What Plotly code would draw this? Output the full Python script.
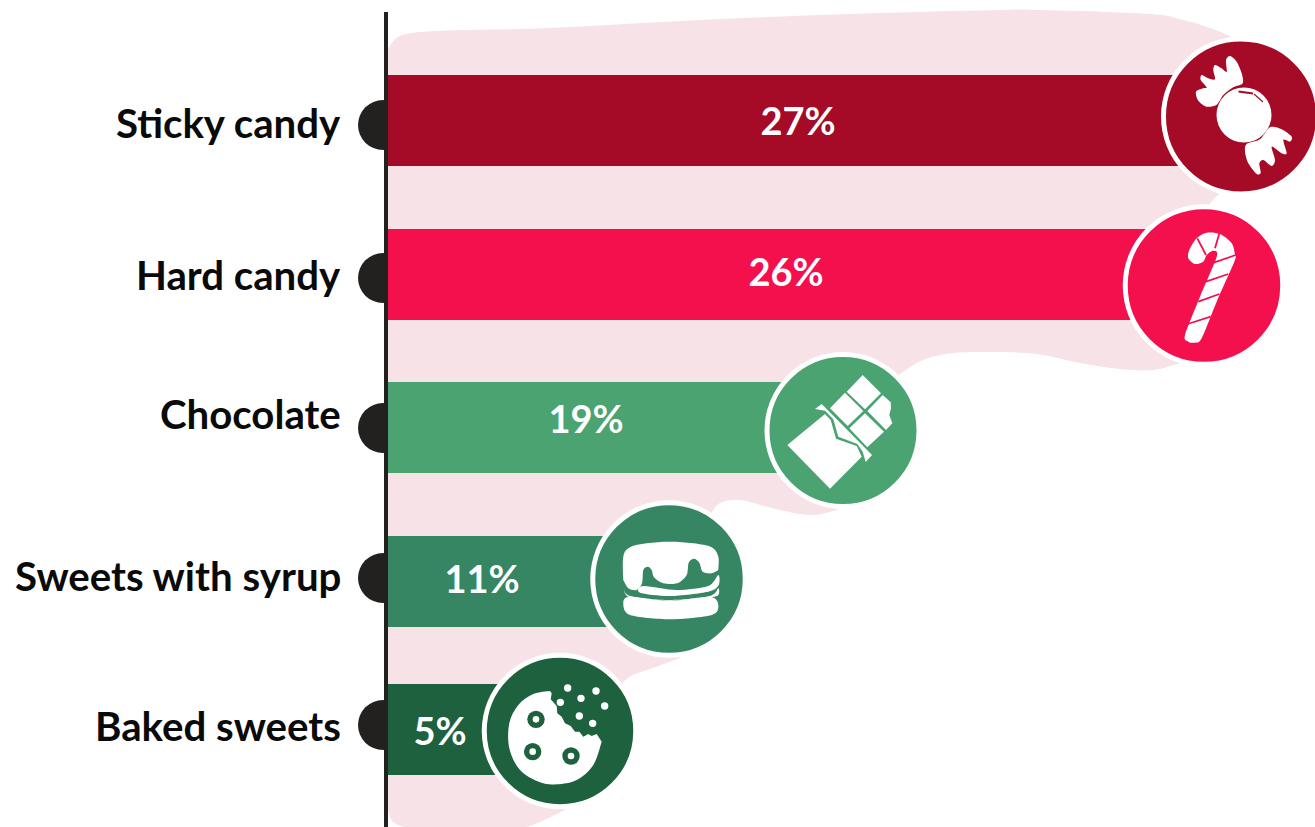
import plotly.graph_objects as go

categories = ["Sticky candy", "Hard candy", "Chocolate", "Sweets with syrup", "Baked sweets"]
percent_values = [27, 26, 19, 11, 5]
colors = ["#a50a26", "#f3104d", "#4aa371", "#368663", "#1e613f"]
bar_y = [120.5, 274.5, 427.5, 581.5, 729.5]
bar_length = [853, 816, 455, 281, 172]
badge_y = [116.5, 285.5, 430.5, 579, 731]
badge_size = [155, 157.5, 152, 152.5, 151.5]
label_x = [798, 786, 586, 482, 440]
label_y = [125, 276, 423, 583, 735]
cat_y = [122.5, 274.5, 413.5, 575.5, 725.5]
dot_y = [125, 278, 428, 578, 725]

AXIS_X = 388
INK = "#22211f"
PINK = "#f6e2e7"
FONT = "Lato"


def seg(p, t=6.0, move=False):
    """Open Catmull-Rom run through p; joined to the previous run by a straight line."""
    n = len(p)
    d = ("M" if move else "L") + f"{p[0][0]:.1f},{p[0][1]:.1f}"
    for i in range(n - 1):
        a, b, c, e = p[max(i - 1, 0)], p[i], p[i + 1], p[min(i + 2, n - 1)]
        c1 = (b[0] + (c[0] - a[0]) / t, b[1] + (c[1] - a[1]) / t)
        c2 = (c[0] - (e[0] - b[0]) / t, c[1] - (e[1] - b[1]) / t)
        d += f"C{c1[0]:.1f},{c1[1]:.1f} {c2[0]:.1f},{c2[1]:.1f} {c[0]:.1f},{c[1]:.1f}"
    return d


def closed_smooth(p, t=6.0):
    n = len(p)
    d = f"M{p[0][0]},{p[0][1]}"
    for i in range(n):
        a, b, c, e = p[i - 1], p[i], p[(i + 1) % n], p[(i + 2) % n]
        c1 = (b[0] + (c[0] - a[0]) / t, b[1] + (c[1] - a[1]) / t)
        c2 = (c[0] - (e[0] - b[0]) / t, c[1] - (e[1] - b[1]) / t)
        d += f"C{c1[0]:.1f},{c1[1]:.1f} {c2[0]:.1f},{c2[1]:.1f} {c[0]:.1f},{c[1]:.1f}"
    return d + "Z"


def poly(p):
    return "M" + "L".join(f"{x:.1f},{y:.1f}" for x, y in p) + "Z"


def z(pts, ox, oy):
    return [(ox + x / 3, oy + y / 3) for x, y in pts]


shapes = []


def fill(path, color="white", layer="above"):
    shapes.append(dict(type="path", path=path, fillcolor=color, line=dict(width=0), layer=layer,
                       xref="x", yref="y"))


def stroke(a, b, color, w=2.0):
    shapes.append(dict(type="line", x0=a[0], y0=a[1], x1=b[0], y1=b[1], xref="x", yref="y",
                       line=dict(color=color, width=w), layer="above"))


def disc(c, r, color="white"):
    shapes.append(dict(type="circle", x0=c[0] - r, x1=c[0] + r, y0=c[1] - r, y1=c[1] + r,
                       xref="x", yref="y", fillcolor=color, line=dict(width=0), layer="above"))


# pink background blob: visible edges are smooth runs, the joins are hidden behind the badges
fill(seg([(388, 62), (391, 44), (420, 32), (550, 28), (700, 20), (850, 14), (1000, 10), (1040, 10),
          (1150, 14), (1183, 20), (1210, 28), (1230, 36)], move=True)
     + "L1240,116"
     + seg([(1220, 193), (1210, 203)])
     + "L1203,285"
     + seg([(1180, 363), (1153, 370), (1120, 369), (1080, 363), (1037, 354), (993, 352), (953, 353),
            (923, 360), (900, 374)])
     + "L843,430"
     + seg([(843, 508), (813, 515), (780, 510), (740, 500), (720, 503), (712, 512)])
     + "L667,579"
     + seg([(680, 658), (653, 668), (633, 675), (622, 683)])
     + "L560,731"
     + seg([(565, 810), (540, 822), (527, 827)])
     + "L403,827"
     + seg([(403, 827), (392, 821), (388, 810)])
     + "Z", PINK, "below")

# vertical axis line
shapes.append(dict(type="line", x0=386, x1=386, y0=12, y1=827, xref="x", yref="y",
                   line=dict(color=INK, width=4), layer="above"))

# ---- wrapped candy icon
O = (1100, 0)
disc((1244, 115), 27.5)
fill(closed_smooth(z([(350, 314), (320, 320), (295, 302), (288, 275), (310, 265), (320, 262), (302, 240),
                      (305, 225), (325, 235), (345, 238), (340, 210), (345, 195), (365, 205), (380, 215),
                      (378, 180), (390, 168), (410, 185), (425, 220), (428, 250), (400, 262), (370, 285)], *O), 7))
fill(closed_smooth(z([(440, 432), (480, 418), (510, 382), (545, 388), (575, 410), (570, 425), (550, 420),
                      (560, 460), (545, 460), (515, 440), (525, 480), (515, 498), (490, 480), (478, 490),
                      (482, 518), (470, 522), (445, 490), (435, 455)], *O), 7))
stroke((1238.5, 91.5), (1253, 93.5), colors[0], 2.2)
stroke((1254, 94), (1263, 102), colors[0], 1.2)

# ---- candy cane icon
fill(closed_smooth(z([(255, 1005), (265, 1025), (285, 1028), (305, 1015), (350, 905), (403, 785), (405, 765),
                      (395, 730), (360, 702), (320, 698), (290, 715), (268, 750), (265, 775), (285, 792),
                      (310, 785), (320, 765), (340, 752), (350, 770), (300, 890)], *O), 7))
for a, b in [((263, 972), (332, 950)), ((295, 905), (358, 882)), ((318, 845), (385, 822)),
             ((335, 790), (407, 765)), ((345, 745), (358, 700)), ((318, 765), (292, 715))]:
    stroke(z([a], *O)[0], z([b], *O)[0], colors[1], 1.8)

# ---- chocolate icon
O = (580, 340)
fill(poly(z([(622, 315), (735, 222), (752, 240), (768, 296), (830, 318), (845, 350), (750, 446)], *O)))
fill(poly(z([(705, 207), (725, 192), (876, 345), (857, 366), (848, 335), (832, 312), (775, 290), (760, 238),
             (735, 212)], *O)))
for sq in [[(848, 105), (903, 160), (855, 208), (800, 155)],
           [(795, 158), (850, 213), (803, 258), (750, 205)],
           [(908, 165), (932, 187), (933, 205), (928, 225), (937, 250), (918, 270), (862, 213)],
           [(855, 220), (912, 275), (862, 322), (808, 265)]]:
    fill(poly(z(sq, *O)))

# ---- syrup pancakes icon
fill(seg(z([(130, 720), (130, 650), (150, 622), (200, 610), (270, 605), (340, 610), (395, 622),
            (415, 650), (415, 690)], *O), move=True)
     + seg(z([(415, 690), (395, 700), (368, 695), (358, 668), (342, 656), (326, 668), (320, 705),
              (292, 730), (250, 730), (222, 712), (215, 690), (203, 680), (190, 690), (186, 730),
              (170, 750), (145, 745), (130, 720)], *O), t=7) + "Z")
fill(closed_smooth(z([(190, 738), (290, 750), (385, 738), (415, 705), (416, 735), (385, 755), (270, 768),
                      (180, 758)], *O), 7))
fill(closed_smooth(z([(132, 745), (150, 768), (270, 782), (390, 768), (415, 745), (415, 765), (390, 772),
                      (270, 780), (150, 772)], *O), 7))
fill(closed_smooth(z([(130, 790), (150, 770), (270, 782), (390, 770), (415, 795), (395, 825), (270, 838),
                      (150, 825)], *O), 7))
fill(poly(z([(335, 687), (358, 685), (361, 707), (330, 708)], *O)), colors[3])
stroke(z([(204, 692)], *O)[0], z([(204, 706)], *O)[0], colors[3], 2)

# ---- cookie icon
O = (340, 620)
fill(seg(z([(630, 213), (580, 222), (535, 255), (508, 310), (508, 385), (540, 450), (600, 487),
            (650, 493), (710, 480), (760, 435), (785, 365)], *O), move=True)
     + "L" + "L".join(f"{x:.1f},{y:.1f}" for x, y in
                      z([(770, 342), (755, 348), (745, 342), (730, 350), (718, 335), (705, 335), (692, 318),
                         (675, 310), (665, 290), (652, 280), (650, 258), (632, 238), (635, 220)], *O))
     + "Z")
for c in [(588, 298), (578, 395), (693, 408)]:
    disc(z([c], *O)[0], 8.7, colors[4])
    disc(z([c], *O)[0], 3.3)
for c in [(683, 204), (768, 213), (723, 235), (661, 247), (794, 258), (718, 288), (758, 310)]:
    disc(z([c], *O)[0], 3.7)

fig = go.Figure()

# dots sit on the base subplot, bars and badges on an overlay so they cover the dots' right halves
fig.add_trace(go.Scatter(x=[383] * len(dot_y), y=dot_y, mode="markers", hoverinfo="skip",
                         marker=dict(size=50, color=INK), xaxis="x", yaxis="y"))
fig.add_trace(go.Bar(y=bar_y, x=bar_length, base=AXIS_X, orientation="h", width=91,
                     marker=dict(color=colors, line=dict(width=0)), xaxis="x2", yaxis="y2", hoverinfo="skip"))
fig.add_trace(go.Scatter(x=[AXIS_X + v for v in bar_length], y=badge_y, mode="markers", hoverinfo="skip",
                         marker=dict(size=badge_size, sizemode="diameter", color=colors, opacity=1,
                                     line=dict(color="white", width=5)),
                         xaxis="x2", yaxis="y2"))
fig.add_trace(go.Scatter(x=label_x, y=label_y, mode="text", text=[f"{v}%" for v in percent_values],
                         textposition="middle center", hoverinfo="skip",
                         textfont=dict(family=FONT, size=38, color="white", weight=700),
                         xaxis="x2", yaxis="y2"))

annotations = [dict(x=343, y=y, xref="x", yref="y", text=c, showarrow=False, xanchor="right",
                    yanchor="middle", font=dict(family=FONT, size=40.2, color="#0a0a0a", weight=700))
               for c, y in zip(categories, cat_y)]

ax = dict(range=[0, 1315], visible=False, fixedrange=True)
ay = dict(range=[827, 0], visible=False, fixedrange=True)
fig.update_layout(
    width=1315, height=827, margin=dict(l=0, r=0, t=0, b=0), showlegend=False,
    paper_bgcolor="white", plot_bgcolor="rgba(0,0,0,0)",
    xaxis=dict(domain=[0, 1], **ax), yaxis=dict(domain=[0, 1], **ay),
    xaxis2=dict(overlaying="x", **ax), yaxis2=dict(overlaying="y", **ay),
    shapes=shapes, annotations=annotations,
)

fig.write_html("out.html", config=dict(displayModeBar=False),
               post_script="document.body.style.margin='0';document.body.style.overflow='hidden';")
